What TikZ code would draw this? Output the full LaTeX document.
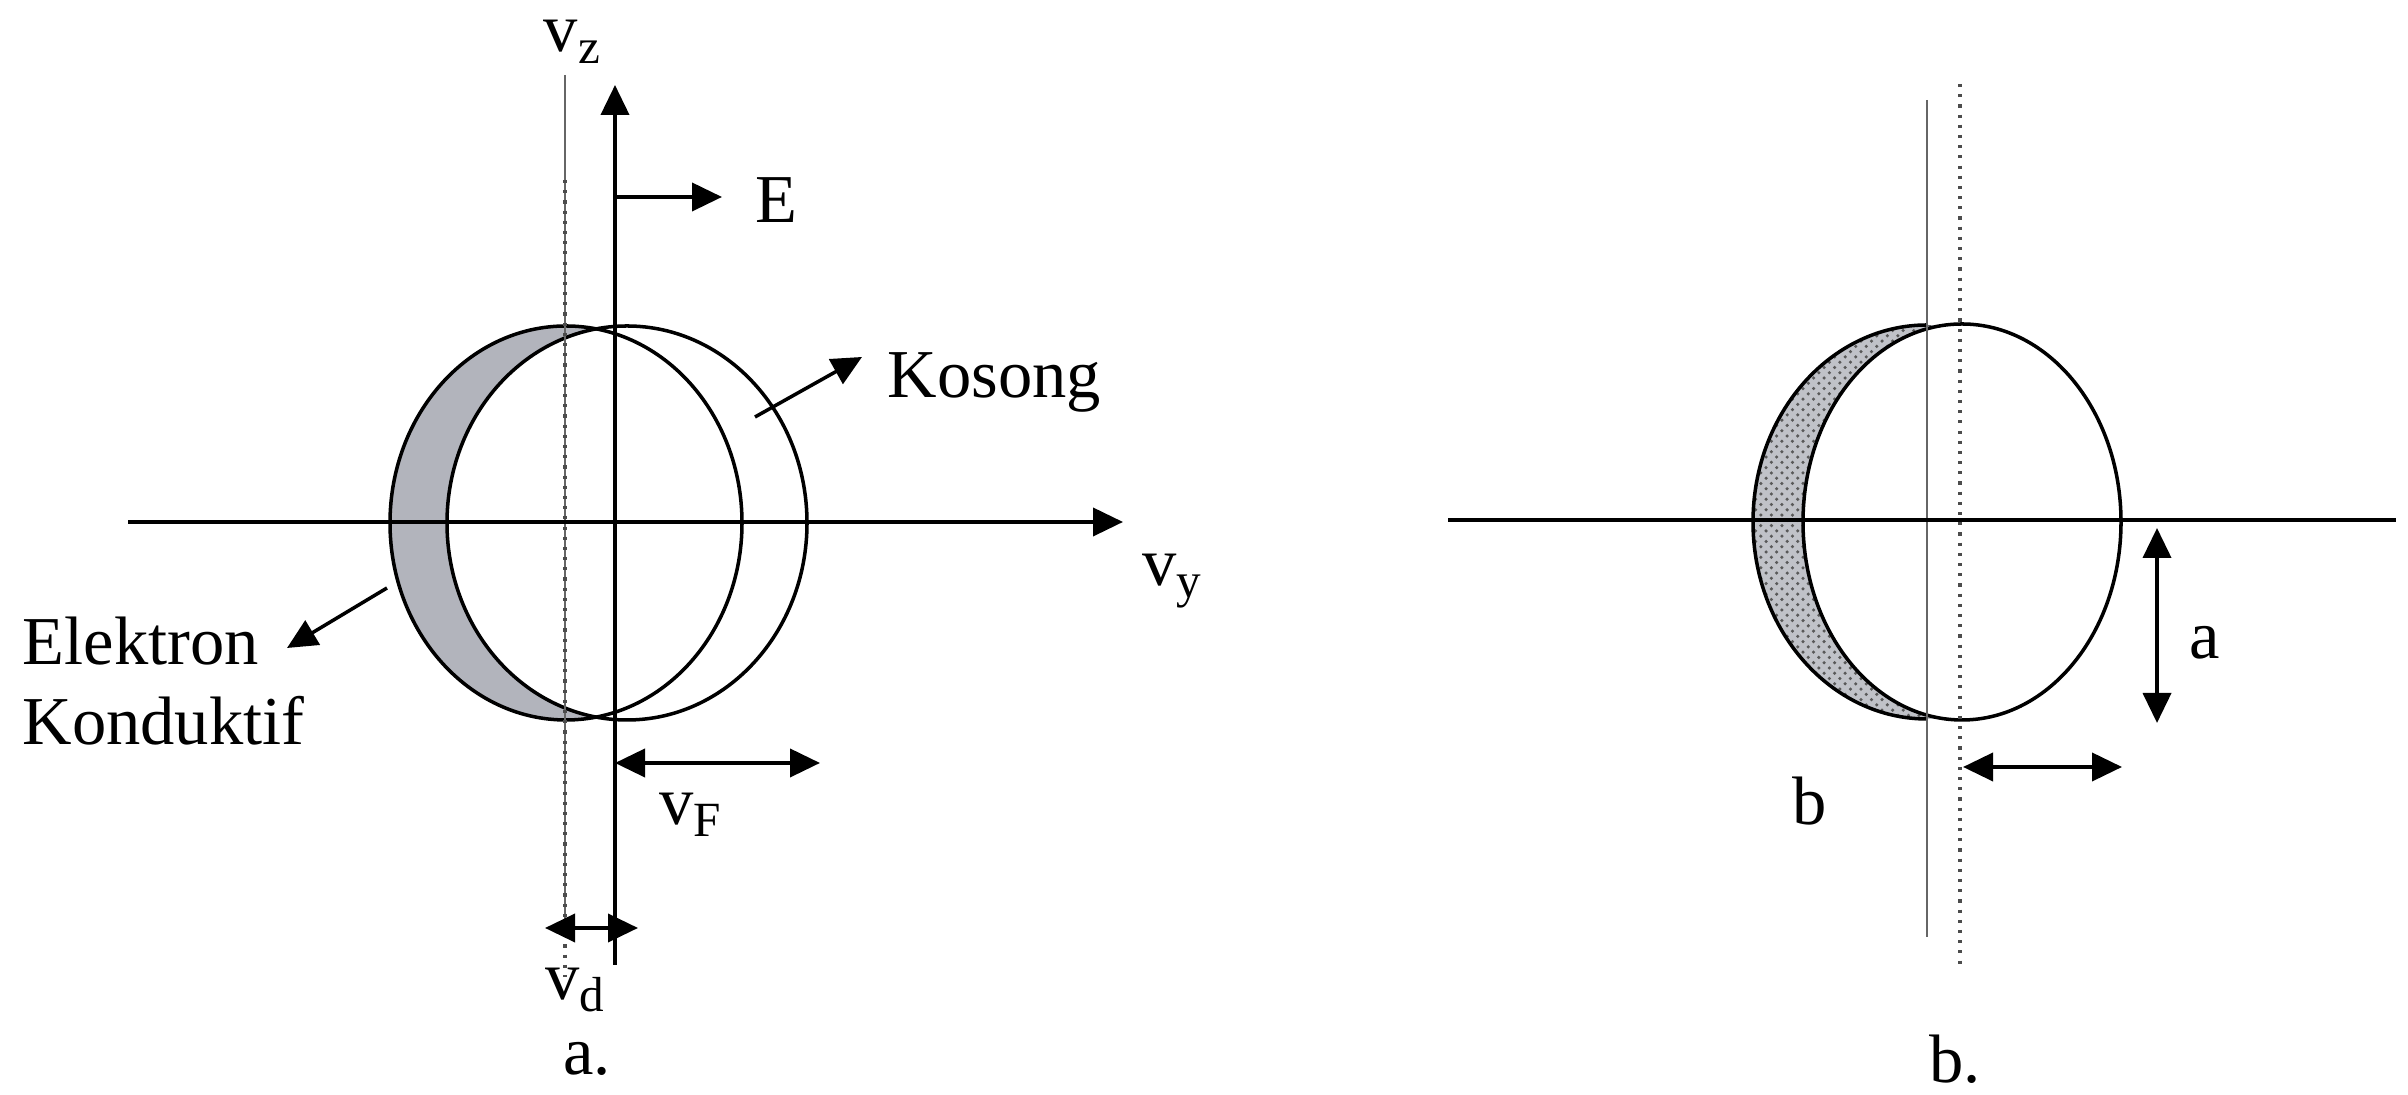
\documentclass[tikz,border=0pt]{standalone}
\usepackage{fontspec}
\setmainfont{Liberation Serif}
\usetikzlibrary{arrows.meta,patterns}
\definecolor{elgray}{RGB}{178,180,188}
\definecolor{elgrayb}{RGB}{192,194,200}
\newcommand{\vsub}[1]{\raisebox{-3.4pt}{\fontsize{14}{14}\selectfont #1}}
\tikzset{
  axisline/.style={line width=1.1pt},
  arr/.style={-{Triangle[length=3mm,width=2.8mm]}},
  darr/.style={{Triangle[length=3mm,width=2.8mm]}-{Triangle[length=3mm,width=2.8mm]}},
  thinline/.style={line width=0.5pt,black!60},
  dotline/.style={line width=0.9pt,black!70,dotted},
  fermi/.style={line width=1pt},
  lbl/.style={font=\fontsize{19.5}{22.8}\selectfont,inner sep=0pt},
}
\begin{document}
\begin{tikzpicture}[x=1cm,y=1cm]
  \useasboundingbox (0,0) rectangle (24.08,10.95);
  % a.
  \coordinate (ayL) at (1.28,5.73);
  \coordinate (ayR) at (11.23,5.73);
  \coordinate (azB) at (6.15,1.30);
  \coordinate (azT) at (6.15,10.10);
  \coordinate (adT) at (5.65,10.20);
  \coordinate (adB) at (5.65,1.62);
  \coordinate (adS) at (5.65,9.15);
  \coordinate (adE) at (5.65,1.18);
  \begin{scope}
    \clip (5.66,5.72) ellipse [x radius=1.76,y radius=1.97];
    \fill[elgray,even odd rule] (3,3) rectangle (9,9)
      (6.27,5.72) ellipse [x radius=1.80,y radius=1.97];
  \end{scope}
  \draw[fermi] (5.66,5.72) ellipse [x radius=1.76,y radius=1.97];
  \draw[fermi] (6.27,5.72) ellipse [x radius=1.80,y radius=1.97];
  \draw[thinline] (adT) -- (adB);
  \draw[dotline] (adS) -- (adE);
  \draw[axisline,arr] (ayL) -- (ayR);
  \draw[axisline,arr] (azB) -- (azT);
  \node[lbl] (vz) at (5.72,10.53) {v\vsub{z}};
  \node[lbl] (vy) at (11.72,5.14) {v\vsub{y}};
  \coordinate (eS) at (6.15,8.98);
  \coordinate (eT) at (7.22,8.98);
  \draw[axisline,arr] (eS) -- (eT);
  \node[lbl,anchor=west] (E) at (7.55,8.95) {E};
  \coordinate (kS) at (7.55,6.78);
  \coordinate (kT) at (8.62,7.38);
  \draw[line width=1pt,arr] (kS) -- (kT);
  \node[lbl,anchor=base west] (kosong) at (8.87,6.97) {Kosong};
  \coordinate (elS) at (3.87,5.07);
  \coordinate (elT) at (2.87,4.47);
  \draw[line width=1pt,arr] (elS) -- (elT);
  \node[lbl,anchor=north west,align=left] (elektron) at (0.22,4.79)
    {Elektron\\Konduktif};
  \coordinate (vfL) at (6.15,3.32);
  \coordinate (vfR) at (8.20,3.32);
  \draw[axisline,darr] (vfL) -- (vfR);
  \node[lbl] (vF) at (6.90,2.80) {v\vsub{F}};
  \coordinate (vdL) at (5.45,1.67);
  \coordinate (vdR) at (6.38,1.67);
  \draw[axisline,darr] (vdL) -- (vdR);
  \node[lbl] (vd) at (5.75,1.05) {v\vsub{d}};
  \node[lbl] (capa) at (5.87,0.36) {a.};
  % b.
  \coordinate (byL) at (14.48,5.75);
  \coordinate (byR) at (23.96,5.75);
  \coordinate (bsT) at (19.27,9.95);
  \coordinate (bsB) at (19.27,1.58);
  \coordinate (bdT) at (19.60,10.11);
  \coordinate (bdB) at (19.60,1.30);
  \begin{scope}
    \clip (19.27,5.73) ellipse [x radius=1.74,y radius=1.97];
    \fill[elgrayb,even odd rule] (16,3) rectangle (22,9)
      (19.62,5.73) ellipse [x radius=1.59,y radius=1.98];
    \path[pattern=crosshatch dots,pattern color=black!65,even odd rule]
      (16,3) rectangle (22,9)
      (19.62,5.73) ellipse [x radius=1.59,y radius=1.98];
  \end{scope}
  \draw[fermi] (19.27,7.70) arc [start angle=90,end angle=270,
    x radius=1.74,y radius=1.97];
  \draw[fermi] (19.62,5.73) ellipse [x radius=1.59,y radius=1.98];
  \draw[thinline] (bsT) -- (bsB);
  \draw[dotline] (bdT) -- (bdB);
  \draw[line width=1.4pt] (byL) -- (byR);
  \coordinate (baT) at (21.57,5.67);
  \coordinate (baB) at (21.57,3.72);
  \draw[axisline,darr] (baT) -- (baB);
  \node[lbl] (la) at (22.05,4.52) {a};
  \coordinate (bbL) at (19.63,3.28);
  \coordinate (bbR) at (21.22,3.28);
  \draw[axisline,darr] (bbL) -- (bbR);
  \node[lbl] (lb) at (18.10,2.94) {b};
  \node[lbl] (capb) at (19.55,0.36) {b.};
\end{tikzpicture}
\end{document}
